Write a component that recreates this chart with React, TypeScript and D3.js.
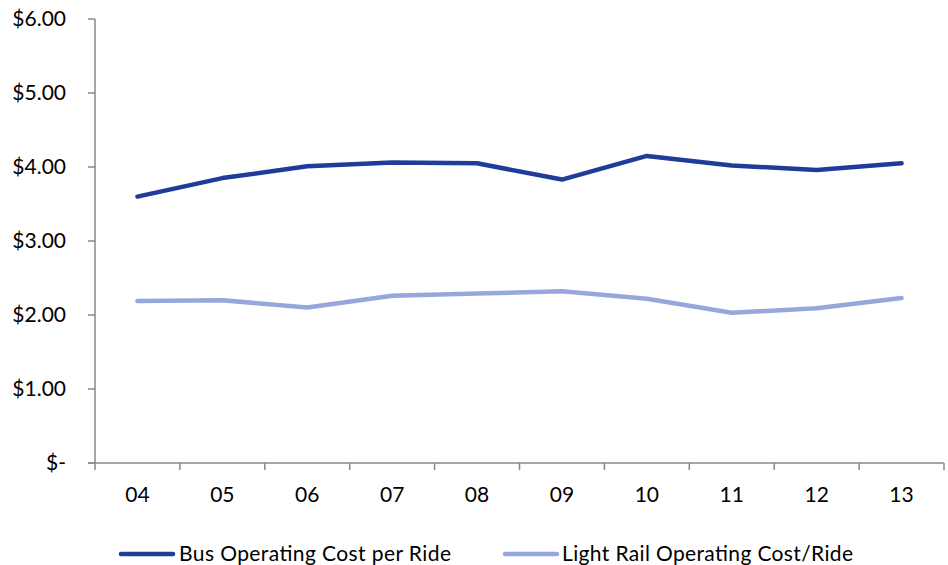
import React from "react";
import * as d3 from "d3";

const categories = ["04", "05", "06", "07", "08", "09", "10", "11", "12", "13"];
const busCost = [3.6, 3.85, 4.01, 4.06, 4.05, 3.83, 4.15, 4.02, 3.96, 4.05];
const lightRailCost = [2.19, 2.2, 2.1, 2.26, 2.29, 2.32, 2.22, 2.03, 2.09, 2.23];
const yTicks = [0, 1, 2, 3, 4, 5, 6];
const seriesNames = ["Bus Operating Cost per Ride", "Light Rail Operating Cost/Ride"];

const W = 948;
const H = 565;
const left = 95;
const right = 944;
const top = 19;
const bottom = 463;
const font = "Lato, 'Open Sans', sans-serif";
const fs = 21;
const busColor = "#1F3C98";
const lrColor = "#97A7DC";
const axisColor = "#888888";

export default function App() {
  const x = d3.scaleBand<string>().domain(categories).range([left, right]).padding(0);
  const y = d3.scaleLinear().domain([0, 6]).range([bottom, top]);
  const cx = (c: string) => (x(c) as number) + x.bandwidth() / 2;
  const line = d3
    .line<number>()
    .x((_, i) => cx(categories[i]))
    .y((d) => y(d));
  const fmt = (v: number) => (v === 0 ? "$-" : `$${v.toFixed(2)}`);
  const boundaries = [...categories.map((c) => x(c) as number), right];

  return (
    <svg width={W} height={H} style={{ position: "absolute", left: 0, top: 0, background: "#fff" }}>
      {/* y axis */}
      <line x1={left} x2={left} y1={top} y2={bottom} stroke={axisColor} strokeWidth={1.5} />
      {yTicks.map((t) => (
        <g key={t}>
          <line x1={left - 7} x2={left} y1={y(t)} y2={y(t)} stroke={axisColor} strokeWidth={1.5} />
          <text x={66} y={y(t)} dy="0.35em" textAnchor="end" fontFamily={font} fontSize={fs} fill="#000">
            {fmt(t)}
          </text>
        </g>
      ))}
      {/* x axis */}
      <line x1={left - 7} x2={right} y1={bottom} y2={bottom} stroke={axisColor} strokeWidth={1.5} />
      {boundaries.map((b, i) => (
        <line key={i} x1={b} x2={b} y1={bottom} y2={bottom + 7} stroke={axisColor} strokeWidth={1.5} />
      ))}
      {categories.map((c) => (
        <text key={c} x={cx(c)} y={495} dy="0.35em" textAnchor="middle" fontFamily={font} fontSize={fs} fill="#000">
          {c}
        </text>
      ))}
      {/* lines */}
      <path d={line(lightRailCost) || ""} fill="none" stroke={lrColor} strokeWidth={4.5} strokeLinecap="round" strokeLinejoin="round" />
      <path d={line(busCost) || ""} fill="none" stroke={busColor} strokeWidth={4.5} strokeLinecap="round" strokeLinejoin="round" />
      {/* legend */}
      <line x1={121} x2={173} y1={554} y2={554} stroke={busColor} strokeWidth={4.5} strokeLinecap="round" />
      <text x={179} y={554} dy="0.35em" fontFamily={font} fontSize={fs} fill="#000" textLength={272} lengthAdjust="spacing">
        {seriesNames[0]}
      </text>
      <line x1={505} x2={557} y1={554} y2={554} stroke={lrColor} strokeWidth={4.5} strokeLinecap="round" />
      <text x={562} y={554} dy="0.35em" fontFamily={font} fontSize={fs} fill="#000" textLength={291} lengthAdjust="spacing">
        {seriesNames[1]}
      </text>
    </svg>
  );
}
